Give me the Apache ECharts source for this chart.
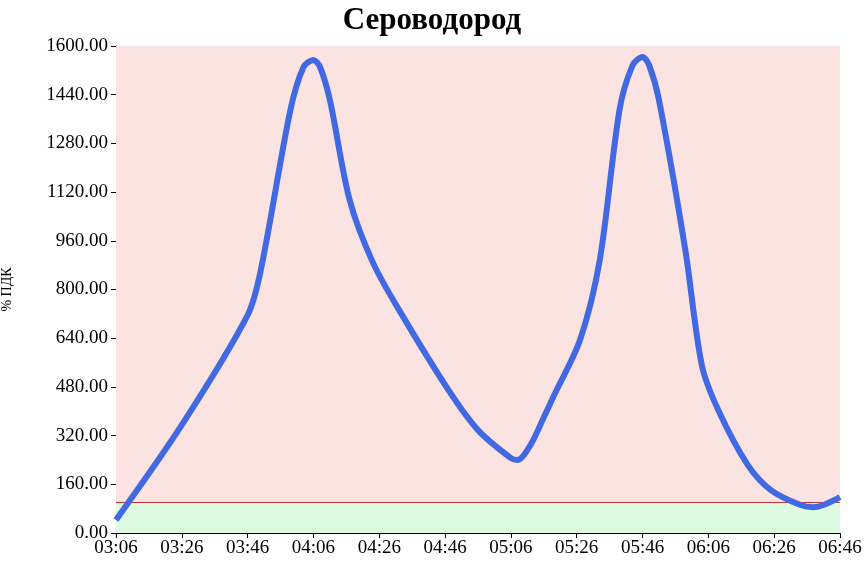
<!DOCTYPE html>
<html>
<head>
<meta charset="utf-8">
<script src="https://cdn.jsdelivr.net/npm/echarts@6/dist/echarts.min.js"></script>
<style>html,body{margin:0;padding:0;background:#fff}#chart{width:864px;height:576px}</style>
</head>
<body>
<div id="chart"></div>
<script>
// time of each point and concentration (% ПДК)
var times = ['03:06','03:26','03:46','03:50','03:59','04:03','04:06','04:08','04:11','04:17','04:24','04:32',
	'04:47','04:56','05:06','05:08','05:12','05:16','05:19','05:27','05:33','05:39','05:43','05:46','05:48',
	'05:51','05:59','06:04','06:09','06:18','06:25','06:34','06:38','06:41','06:46'];
var values = [43, 355, 716, 864, 1390, 1531, 1554, 1531, 1422, 1094, 890, 733,
	470, 338, 246, 240, 290, 380, 450, 634, 897, 1390, 1537, 1564, 1537,
	1422, 930, 552, 404, 223, 141, 92, 85, 92, 118];
var tickLabels = ['03:06','03:26','03:46','04:06','04:26','04:46','05:06','05:26','05:46','06:06','06:26','06:46'];
var limit = 100;

function toMin(t) {
	var p = t.split(':');
	return (+p[0]) * 60 + (+p[1]) - (3 * 60 + 6);
}
function toLabel(m) {
	var total = m + 3 * 60 + 6;
	var h = Math.floor(total / 60), mm = total % 60;
	return (h < 10 ? '0' : '') + h + ':' + (mm < 10 ? '0' : '') + mm;
}

var data = [];
for (var i = 0; i < times.length; i++) {
	data.push([toMin(times[i]), values[i]]);
}

var font = 'Liberation Serif, DejaVu Serif, serif';
var chart = echarts.init(document.getElementById('chart'));
chart.setOption({
	animation: false,
	textStyle: {fontFamily: font},
	title: {
		text: 'Сероводород',
		left: 'center',
		top: 0,
		textStyle: {fontFamily: font, fontSize: 31, fontWeight: 'bold', color: '#000'}
	},
	grid: {left: 116, right: 24, top: 46, bottom: 43, outerBoundsMode: 'none'},
	xAxis: {
		type: 'value',
		min: 0,
		max: toMin(tickLabels[tickLabels.length - 1]),
		interval: 20,
		splitLine: {show: false},
		axisLine: {lineStyle: {color: '#000'}},
		axisTick: {lineStyle: {color: '#000'}},
		axisLabel: {
			color: '#000', fontSize: 19, fontFamily: font, margin: 6,
			formatter: function (v) { return toLabel(v); }
		}
	},
	yAxis: {
		type: 'value',
		min: 0,
		max: 1600,
		interval: 160,
		name: '% ПДК',
		nameLocation: 'middle',
		nameGap: 102,
		nameTextStyle: {color: '#000', fontSize: 14, fontFamily: font},
		splitLine: {show: false},
		axisLine: {show: true, lineStyle: {color: '#000'}},
		axisTick: {show: true, lineStyle: {color: '#000'}},
		axisLabel: {
			color: '#000', fontSize: 19, fontFamily: font, margin: 8,
			formatter: function (v) { return v.toFixed(2); }
		}
	},
	series: [{
		type: 'line',
		data: data,
		smooth: 0.3,
		symbol: 'none',
		lineStyle: {color: '#4169e1', width: 6},
		z: 5,
		markArea: {
			silent: true,
			data: [
				[{yAxis: limit, itemStyle: {color: '#fbe3e1'}}, {yAxis: 1600}],
				[{yAxis: 0, itemStyle: {color: '#dcfbe0'}}, {yAxis: limit}]
			]
		},
		markLine: {
			silent: true,
			symbol: 'none',
			label: {show: false},
			lineStyle: {color: '#c83232', width: 1, type: 'solid'},
			data: [{yAxis: limit}]
		}
	}]
});
</script>
</body>
</html>
